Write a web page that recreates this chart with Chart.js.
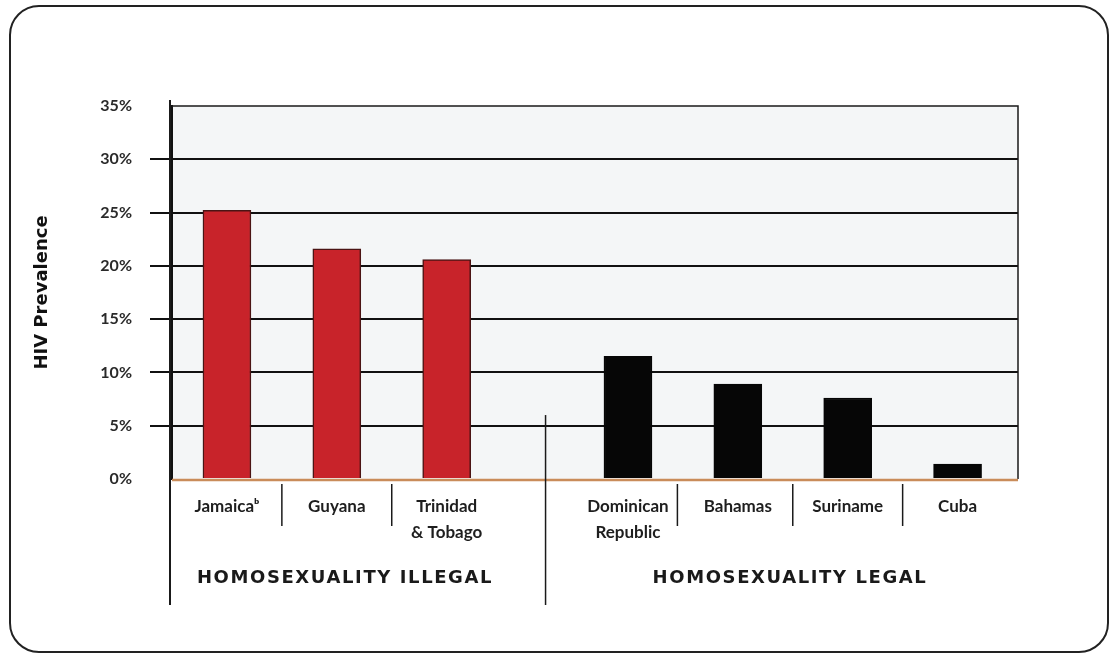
<!DOCTYPE html>
<html>
<head>
<meta charset="utf-8">
<script src="https://cdn.jsdelivr.net/npm/chart.js@4.4.1/dist/chart.umd.min.js"></script>
<style>
  html, body { margin: 0; padding: 0; background: #ffffff; }
  #wrap { position: relative; width: 1114px; height: 657px; overflow: hidden; }
  #frame { position: absolute; left: 9px; top: 5px; width: 1100px; height: 648px;
           border: 2.5px solid #222; border-radius: 30px; box-sizing: border-box; }
  canvas { position: absolute; left: 0; top: 0; }
  .grp { position: absolute; font-family: "DejaVu Sans", sans-serif; font-weight: bold;
         font-size: 18px; letter-spacing: 1.6px; color: #1a1a1a; transform: translateX(-50%);
         white-space: nowrap; }
</style>
</head>
<body>
<div id="wrap">
  <div id="frame"></div>
  <canvas id="c" width="1114" height="657"></canvas>
  <div class="grp" id="g1" style="left:345px; top:566px;">HOMOSEXUALITY ILLEGAL</div>
  <div class="grp" id="g2" style="left:790px; top:566px;">HOMOSEXUALITY LEGAL</div>
</div>
<script>
// ---- data ----
const categories = ['Jamaicaᵇ', 'Guyana', ['Trinidad', '& Tobago'], ['Dominican', 'Republic'], 'Bahamas', 'Suriname', 'Cuba'];
const slots = [0, 1, 2, 3.65, 4.65, 5.65, 6.65];          // category slot on the x axis
const prevalence = [25.2, 21.6, 20.6, 11.5, 8.9, 7.6, 1.4]; // HIV prevalence, %
const groupIllegal = [true, true, true, false, false, false, false];
const yTicks = [0, 5, 10, 15, 20, 25, 30, 35];
const dividerSlots = [0.5, 1.5, 4.1, 5.15, 6.15];         // short dividers between labels
const groupSplitSlot = 2.9;                                // long divider between groups

const RED = '#c8232a', BLACK = '#060606';

const extras = {
  id: 'extras',
  beforeDraw(chart) {
    const { ctx, chartArea: a } = chart;
    ctx.save();
    ctx.fillStyle = '#f4f6f7';
    ctx.fillRect(a.left, a.top, a.right - a.left, a.bottom - a.top);
    ctx.restore();
  },
  afterDraw(chart) {
    const { ctx, chartArea: a, scales } = chart;
    const x = scales.x, y = scales.y;
    ctx.save();
    // top & right plot border
    ctx.strokeStyle = '#1a1a1a';
    ctx.lineWidth = 1.5;
    ctx.beginPath();
    ctx.moveTo(a.left, a.top); ctx.lineTo(a.right, a.top); ctx.lineTo(a.right, a.bottom);
    ctx.stroke();
    // bottom (tan) axis line
    ctx.strokeStyle = '#c98c5a';
    ctx.lineWidth = 2.5;
    ctx.beginPath(); ctx.moveTo(a.left, a.bottom + 1); ctx.lineTo(a.right, a.bottom + 1); ctx.stroke();
    // short dividers under the axis
    ctx.strokeStyle = '#1a1a1a';
    ctx.lineWidth = 1.5;
    dividerSlots.forEach(s => {
      const px = x.getPixelForValue(s);
      ctx.beginPath(); ctx.moveTo(px, a.bottom + 5); ctx.lineTo(px, a.bottom + 47); ctx.stroke();
    });
    // long left line
    ctx.lineWidth = 2;
    ctx.beginPath(); ctx.moveTo(a.left - 2, a.top - 6); ctx.lineTo(a.left - 2, a.bottom + 126); ctx.stroke();
    // group split line
    ctx.lineWidth = 1.5;
    const gx = x.getPixelForValue(groupSplitSlot);
    ctx.beginPath(); ctx.moveTo(gx, y.getPixelForValue(6)); ctx.lineTo(gx, a.bottom + 126); ctx.stroke();
    ctx.restore();
  }
};

new Chart(document.getElementById('c'), {
  type: 'bar',
  data: {
    datasets: [{
      data: slots.map((s, i) => ({ x: s, y: prevalence[i] })),
      backgroundColor: groupIllegal.map(g => g ? RED : BLACK),
      borderColor: groupIllegal.map(g => g ? '#4a1414' : BLACK),
      borderWidth: 1.5,
      borderSkipped: 'bottom',
      barThickness: 48
    }]
  },
  options: {
    responsive: false,
    animation: false,
    devicePixelRatio: 1,
    layout: { padding: { left: 30, top: 106, right: 96, bottom: 0 } },
    plugins: { legend: { display: false }, tooltip: { enabled: false } },
    scales: {
      x: {
        type: 'linear',
        offset: false,
        min: -0.5,
        max: 7.2,
        grid: { display: false, drawTicks: false },
        border: { display: false },
        afterBuildTicks(scale) { scale.ticks = slots.map(v => ({ value: v })); },
        afterFit(scale) { scale.height = 657 - 479; },
        ticks: {
          autoSkip: false,
          maxRotation: 0,
          padding: 15,
          color: '#1e1e1e',
          font: { family: 'Lato, "Open Sans", sans-serif', size: 17, weight: 'bold', lineHeight: 1.5 },
          callback: v => { const i = slots.indexOf(v); return i >= 0 ? categories[i] : ''; }
        }
      },
      y: {
        min: 0,
        max: 35,
        afterBuildTicks(scale) { scale.ticks = yTicks.map(v => ({ value: v })); },
        afterFit(scale) { scale.width = 172 - 30; },
        grid: {
          color: c => (c.tick && (c.tick.value === 0 || c.tick.value === 35)) ? 'rgba(0,0,0,0)' : '#111',
          lineWidth: 2,
          tickLength: 22
        },
        border: { display: true, color: '#111', width: 2 },
        ticks: {
          padding: 18,
          color: '#2a2a2a',
          font: { family: 'Lato, "Open Sans", sans-serif', size: 16, weight: 'bold' },
          callback: v => v + '%'
        },
        title: {
          display: true,
          text: 'HIV Prevalence',
          color: '#111',
          font: { family: '"DejaVu Sans", sans-serif', size: 18, weight: 'bold' },
          padding: { top: 2, bottom: 0 }
        }
      }
    }
  },
  plugins: [extras]
});
</script>
</body>
</html>
